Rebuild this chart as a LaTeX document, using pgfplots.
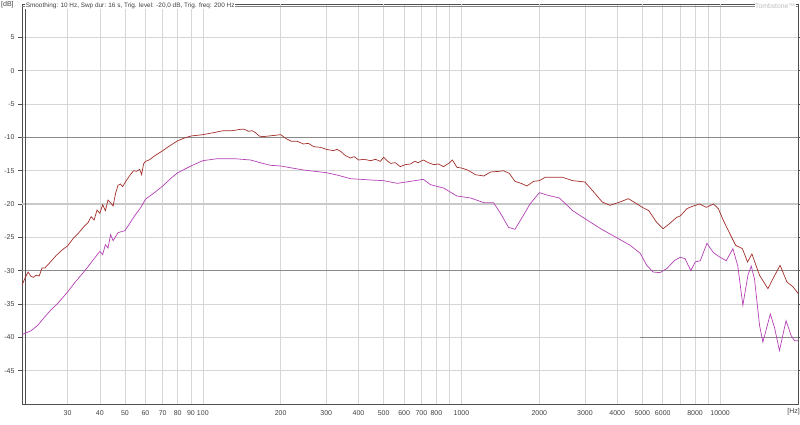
\documentclass[border=0pt]{standalone}
\usepackage{fontspec}
\setmainfont{Liberation Sans}
\usepackage{pgfplots}
\pgfplotsset{compat=1.18}
\definecolor{redc}{HTML}{A22E2A}
\definecolor{magc}{HTML}{B440B4}
\definecolor{gridlight}{HTML}{D6D6D6}
\definecolor{griddark}{HTML}{8A8A8A}
\definecolor{axc}{HTML}{505050}
\definecolor{txt}{HTML}{404040}
\begin{document}
\begin{tikzpicture}
\useasboundingbox (0pt,0pt) rectangle (800pt,425pt);
\begin{axis}[
  at={(22pt,21pt)}, anchor=south west,
  width=776pt, height=400pt, scale only axis,
  xmode=log, xmin=20, xmax=20000, ymin=-50, ymax=10,
  axis line style={axc, line width=0.8pt},
  xtick={30,40,50,60,70,80,90,100,200,300,400,500,600,700,800,900,1000,2000,3000,4000,5000,6000,7000,8000,9000,10000},
  xticklabels={30,40,50,60,70,80,90,100,200,300,400,500,600,700,800,,1000,2000,3000,4000,5000,6000,,8000,,10000},
  ytick={-45,-40,...,5},
  minor xtick={},
  xmajorgrids, ymajorgrids,
  major grid style={gridlight, line width=0.6pt},
  extra x ticks={50,100,200,500,1000,2000,5000,10000},
  extra x tick labels={},
  extra x tick style={grid style={griddark, line width=0.6pt}, major tick length=0pt},
  tick align=outside,
  x tick style={draw=none},
  y tick style={axc, line width=0.5pt},
  major tick length=4pt,
  tick label style={font=\fontsize{7}{8}\selectfont, text=txt},
  /pgf/number format/assume math mode=true,
  xticklabel style={yshift=1pt},
  clip=true,
]
% darker / special horizontal lines
\draw[griddark, line width=0.6pt] (axis cs:20,-10) -- (axis cs:20000,-10);
\draw[griddark, line width=0.6pt] (axis cs:20,-30) -- (axis cs:20000,-30);
\draw[gridlight!85!gray, line width=1.6pt] (axis cs:20,-20) -- (axis cs:20000,-20);
\draw[griddark, line width=0.6pt] (axis cs:4900,-40) -- (axis cs:20000,-40);
\draw[axc, line width=0.6pt] ([xshift=3pt]rel axis cs:0,0) -- ([xshift=3pt]rel axis cs:0,1);
\draw[axc!70, line width=0.6pt] ([yshift=-2pt]rel axis cs:0,1) -- ([yshift=-2pt]rel axis cs:1,1);

\addplot[redc, line width=0.7pt] coordinates {
(20,-32.2)(20.6,-31.0)(21.1,-30.2)(21.6,-30.8)(22.1,-31.0)(22.7,-30.7)(23.3,-30.8)(23.9,-29.6)(24.5,-29.6)(25.9,-28.6)(27,-27.8)(28,-27.2)(29,-26.7)(30,-26.3)(31.5,-25.2)(33,-24.4)(34.7,-23.4)(36,-22.8)(37,-21.9)(38,-22.4)(39,-20.9)(40,-21.4)(41,-20.1)(42,-21.0)(43,-19.4)(44,-19.8)(45,-20.3)(46,-18.4)(47,-17.2)(48,-17.0)(49,-17.4)(50,-16.8)(52,-15.8)(54,-15.0)(55.5,-15.1)(57,-14.8)(58,-15.6)(59,-14.0)(60,-13.6)(62,-13.4)(65,-12.8)(70,-12.0)(75,-11.2)(80,-10.5)(85,-10.1)(90,-9.8)(100,-9.6)(110,-9.3)(120,-9.0)(130,-9.0)(140,-8.8)(145,-8.8)(150,-9.1)(155,-9.0)(160,-9.3)(165,-9.8)(170,-9.9)(180,-9.8)(190,-9.7)(200,-9.6)(210,-10.2)(220,-10.6)(232,-10.6)(245,-11.0)(256,-10.9)(268,-11.4)(285,-11.5)(300,-11.8)(320,-12.0)(330,-11.8)(341,-12.1)(355,-12.7)(372,-13.1)(385,-12.9)(400,-13.4)(420,-13.3)(446,-13.5)(465,-13.3)(486,-13.6)(500,-13.0)(515,-13.5)(532,-13.9)(555,-13.8)(580,-14.4)(605,-14.1)(635,-14.0)(660,-13.6)(680,-13.8)(712,-13.4)(745,-13.8)(780,-14.1)(815,-14.0)(852,-14.4)(900,-13.8)(923,-13.4)(960,-14.5)(1000,-14.6)(1055,-14.9)(1100,-15.3)(1130,-15.6)(1220,-15.8)(1295,-15.2)(1400,-15.1)(1450,-15.0)(1530,-15.4)(1610,-16.6)(1700,-16.9)(1790,-17.3)(1900,-16.6)(2000,-16.5)(2105,-16.0)(2225,-16.0)(2460,-16.0)(2690,-16.5)(3000,-16.7)(3245,-18.2)(3500,-19.7)(3750,-20.2)(4100,-19.7)(4420,-19.2)(4775,-20.0)(5000,-20.5)(5300,-21.0)(5670,-22.7)(6020,-23.7)(6350,-23.0)(6790,-22.0)(7008,-21.8)(7440,-20.7)(7750,-20.4)(8310,-20.0)(8850,-20.5)(9420,-20.0)(9840,-20.7)(10300,-22.5)(10980,-24.7)(11480,-26.2)(12190,-26.7)(12760,-28.7)(13270,-27.5)(14200,-30.7)(15300,-32.7)(16000,-31.2)(17050,-29.2)(18120,-31.7)(19100,-32.4)(20000,-33.4)
};
\addplot[magc, line width=0.7pt] coordinates {
(20,-39.6)(21.7,-39.0)(23,-38.2)(24.4,-37.0)(26,-35.8)(27.5,-34.9)(30,-33.2)(32,-31.8)(34.8,-30.1)(36,-29.4)(38,-28.2)(40,-27.1)(41,-27.6)(42,-26.1)(43,-26.6)(44,-24.6)(45,-25.5)(47,-24.3)(48,-24.2)(50,-24.0)(52,-23.0)(54,-22.0)(57.6,-20.5)(60,-19.3)(65,-18.3)(70,-17.3)(75,-16.2)(80,-15.3)(90,-14.3)(100,-13.5)(114,-13.2)(132,-13.2)(153,-13.4)(170,-13.9)(183,-14.2)(200,-14.3)(245,-14.9)(300,-15.3)(334,-15.7)(372,-16.2)(446,-16.4)(500,-16.5)(565,-16.9)(635,-16.6)(712,-16.3)(759,-17.1)(852,-17.6)(960,-18.8)(1085,-19.1)(1220,-19.8)(1330,-19.8)(1410,-21.3)(1520,-23.5)(1610,-23.8)(1730,-21.8)(1840,-20.0)(2000,-18.3)(2160,-18.7)(2390,-19.1)(2690,-21.0)(3000,-22.2)(3450,-23.7)(4000,-25.1)(4490,-26.2)(4910,-27.4)(5200,-29.2)(5510,-30.2)(5850,-30.3)(6210,-29.7)(6700,-28.4)(7008,-28.0)(7320,-28.2)(7700,-30.0)(8010,-28.7)(8380,-28.5)(8890,-25.9)(9420,-27.3)(10000,-28.0)(10560,-28.5)(11200,-26.7)(11700,-29.3)(12240,-35.2)(12800,-30.7)(13190,-29.3)(13580,-31.3)(14200,-38.2)(14630,-40.7)(15630,-36.5)(16220,-38.5)(16950,-42.0)(17980,-37.5)(18800,-39.7)(19370,-40.5)(20000,-40.5)
};
\end{axis}
\node[anchor=north west, inner sep=0.6pt, fill=white, text=txt, font=\fontsize{6.4}{7}\selectfont] at (25pt,423pt) {Smoothing: 10 Hz, Swp dur: 16 s, Trig. level: -20,0 dB, Trig. freq: 200 Hz};
\node[anchor=north east, inner sep=0.6pt, fill=white, text=black!25, font=\fontsize{6.8}{7}\selectfont] at (796pt,422pt) {Tombstone\texttrademark};
\node[anchor=north west, inner sep=0pt, text=txt, font=\fontsize{7}{8}\selectfont] at (1pt,423.5pt) {[dB]};
\node[anchor=north east, inner sep=0pt, text=txt, font=\fontsize{7}{8}\selectfont] at (800pt,17pt) {[Hz]};
\end{tikzpicture}
\end{document}
